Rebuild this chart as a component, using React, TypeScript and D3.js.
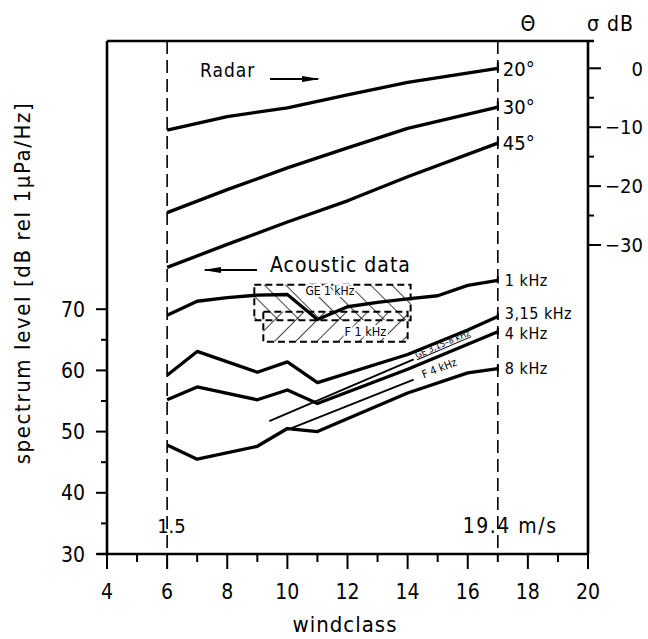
import React, { useEffect, useRef } from "react";
import * as d3 from "d3";

// axes
const windTicks = [4, 6, 8, 10, 12, 14, 16, 18, 20];
const windMinor = [5, 7, 9, 11, 13, 15, 17, 19];
const levelTicks = [30, 40, 50, 60, 70];
const levelMinor = [35, 45, 55, 65];
const sigmaTicks = [0, -10, -20, -30];
const sigmaMinor = [-5, -15, -25];

// radar sigma (right axis) per incidence angle
const radarWind = [6, 8, 10, 12, 14, 17];
const radar20 = [-10.5, -8.2, -6.7, -4.5, -2.4, 0];
const radar30 = [-24.5, -20.6, -16.9, -13.5, -10.2, -6.6];
const radar45 = [-33.8, -29.9, -26.1, -22.5, -18.4, -12.7];
const radarLabels = ["20°", "30°", "45°"];

// acoustic spectrum levels (left axis)
const wind1k = [6, 7, 8, 9, 10, 11, 12, 13, 14, 15, 16, 17];
const level1k = [69.0, 71.3, 71.9, 72.3, 72.4, 68.3, 70.4, 71.1, 71.7, 72.2, 73.9, 74.7];
const wind3k = [6, 7, 9, 10, 11, 14, 16, 17];
const level3k = [59.2, 63.1, 59.7, 61.4, 58.0, 62.6, 66.6, 68.8];
const wind4k = [6, 7, 9, 10, 11, 14, 17];
const level4k = [55.2, 57.3, 55.2, 56.8, 54.6, 60.2, 66.3];
const wind8k = [6, 7, 9, 10, 11, 14, 16, 17];
const level8k = [47.8, 45.5, 47.6, 50.5, 50.0, 56.3, 59.6, 60.3];
const acousticLabels = ["1 kHz", "3,15 kHz", "4 kHz", "8 kHz"];

// other studies
const windGE = [9.4, 14.2];
const levelGE = [51.7, 61.8];
const windF4 = [10.1, 14.2];
const levelF4 = [50.5, 58.5];
const boxGE1k = { wind: [8.9, 14.1], level: [68.2, 74.0] };
const boxF1k = { wind: [9.2, 14.0], level: [64.7, 69.6] };

const font = "'DejaVu Sans Condensed', 'Liberation Sans Narrow', 'DejaVu Sans', sans-serif";

const App = () => {
  const svgRef = useRef(null);

  useEffect(() => {
    const svg = d3.select(svgRef.current);
    svg.selectAll("*").remove();

    const x = d3.scaleLinear().domain([4, 20]).range([107, 588]);
    const y = d3.scaleLinear().domain([30, 70]).range([554, 309.2]);
    const s = d3.scaleLinear().domain([-30, 0]).range([245, 68.3]);
    const top = 41;

    const defs = svg.append("defs");
    const hatch = (id, angle) => {
      defs
        .append("pattern")
        .attr("id", id)
        .attr("patternUnits", "userSpaceOnUse")
        .attr("width", 15)
        .attr("height", 15)
        .attr("patternTransform", `rotate(${angle})`)
        .append("line")
        .attr("x1", 0)
        .attr("y1", 0)
        .attr("x2", 0)
        .attr("y2", 15)
        .attr("stroke", "#000")
        .attr("stroke-width", 1.5);
    };
    hatch("hatchGE", -45);
    hatch("hatchF", 45);

    const g = svg.append("g").attr("font-family", font).attr("fill", "#000");

    // frame
    g.append("path")
      .attr("d", `M${x(4)},${top}H${x(20) + 6}M${x(4)},${top}V${y(30)}M${x(4) - 10},${y(30)}H${x(20)}M${x(20)},${top}V${y(30)}`)
      .attr("stroke", "#000")
      .attr("stroke-width", 2.6)
      .attr("fill", "none");

    // dashed limits 1.5 and 19.4 m/s
    [6, 17].forEach((w) => {
      g.append("line")
        .attr("x1", x(w))
        .attr("x2", x(w))
        .attr("y1", top)
        .attr("y2", y(30))
        .attr("stroke", "#000")
        .attr("stroke-width", 1.6)
        .attr("stroke-dasharray", "13,6");
    });

    // bottom ticks
    g.selectAll(".xt")
      .data(windTicks)
      .enter()
      .append("line")
      .attr("x1", (d) => x(d))
      .attr("x2", (d) => x(d))
      .attr("y1", y(30))
      .attr("y2", y(30) + 15)
      .attr("stroke", "#000")
      .attr("stroke-width", 2);
    g.selectAll(".xm")
      .data(windMinor)
      .enter()
      .append("line")
      .attr("x1", (d) => x(d))
      .attr("x2", (d) => x(d))
      .attr("y1", y(30))
      .attr("y2", y(30) + 8)
      .attr("stroke", "#000")
      .attr("stroke-width", 2);
    g.selectAll(".xl")
      .data(windTicks)
      .enter()
      .append("text")
      .attr("x", (d) => x(d))
      .attr("y", 599)
      .attr("text-anchor", "middle")
      .attr("font-size", 21)
      .text((d) => d);

    // left ticks
    g.selectAll(".yt")
      .data(levelTicks)
      .enter()
      .append("line")
      .attr("x1", x(4) - 11)
      .attr("x2", x(4))
      .attr("y1", (d) => y(d))
      .attr("y2", (d) => y(d))
      .attr("stroke", "#000")
      .attr("stroke-width", 2);
    g.selectAll(".ym")
      .data(levelMinor)
      .enter()
      .append("line")
      .attr("x1", x(4) - 6)
      .attr("x2", x(4))
      .attr("y1", (d) => y(d))
      .attr("y2", (d) => y(d))
      .attr("stroke", "#000")
      .attr("stroke-width", 2);
    g.selectAll(".yl")
      .data(levelTicks)
      .enter()
      .append("text")
      .attr("x", 85)
      .attr("y", (d) => y(d))
      .attr("dy", "0.36em")
      .attr("text-anchor", "end")
      .attr("font-size", 21)
      .text((d) => d);

    // right sigma axis
    g.selectAll(".st")
      .data(sigmaTicks)
      .enter()
      .append("line")
      .attr("x1", x(20))
      .attr("x2", x(20) + 13)
      .attr("y1", (d) => s(d))
      .attr("y2", (d) => s(d))
      .attr("stroke", "#000")
      .attr("stroke-width", 2);
    g.selectAll(".sm")
      .data(sigmaMinor)
      .enter()
      .append("line")
      .attr("x1", x(20))
      .attr("x2", x(20) + 6)
      .attr("y1", (d) => s(d))
      .attr("y2", (d) => s(d))
      .attr("stroke", "#000")
      .attr("stroke-width", 2);
    g.selectAll(".sl")
      .data(sigmaTicks)
      .enter()
      .append("text")
      .attr("x", 643)
      .attr("y", (d) => s(d))
      .attr("dy", "0.36em")
      .attr("text-anchor", "end")
      .attr("font-size", 20)
      .text((d) => (d === 0 ? "0" : `−${-d}`));

    g.append("text").attr("x", 528).attr("y", 31).attr("text-anchor", "middle").attr("font-size", 21).text("Θ");
    g.append("text").attr("x", 587).attr("y", 31).attr("font-size", 21).attr("letter-spacing", 1).text("σ dB");

    // axis titles
    g.append("text")
      .attr("x", 345)
      .attr("y", 632)
      .attr("text-anchor", "middle")
      .attr("font-size", 22)
      .attr("letter-spacing", 1)
      .text("windclass");
    g.append("text")
      .attr("transform", "translate(30,283) rotate(-90)")
      .attr("text-anchor", "middle")
      .attr("font-size", 22)
      .attr("letter-spacing", 1.6)
      .text("spectrum level [dB rel 1μPa/Hz]");

    g.append("text").attr("x", x(6) - 10).attr("y", 533).attr("font-size", 20).text("1.5");
    g.append("text")
      .attr("x", x(17) - 35)
      .attr("y", 533)
      .attr("font-size", 21)
      .attr("letter-spacing", 1.5)
      .text("19.4 m/s");

    // hatched boxes of other studies
    const box = (b, id) => {
      g.append("rect")
        .attr("x", x(b.wind[0]))
        .attr("y", y(b.level[1]))
        .attr("width", x(b.wind[1]) - x(b.wind[0]))
        .attr("height", y(b.level[0]) - y(b.level[1]))
        .attr("fill", `url(#${id})`)
        .attr("stroke", "#000")
        .attr("stroke-width", 2)
        .attr("stroke-dasharray", "7,4");
    };
    box(boxGE1k, "hatchGE");
    box(boxF1k, "hatchF");

    const radarLine = d3
      .line()
      .x((d) => x(d[0]))
      .y((d) => s(d[1]));
    const levelLine = d3
      .line()
      .x((d) => x(d[0]))
      .y((d) => y(d[1]));

    const radar = [radar20, radar30, radar45];
    radar.forEach((vals, i) => {
      const pts = radarWind.map((w, j) => [w, vals[j]]);
      g.append("path")
        .attr("d", radarLine(pts))
        .attr("fill", "none")
        .attr("stroke", "#000")
        .attr("stroke-width", 3.3)
        .attr("stroke-linejoin", "round");
      const end = pts[pts.length - 1];
      g.append("line")
        .attr("x1", x(17))
        .attr("x2", x(17))
        .attr("y1", s(end[1]) - 6)
        .attr("y2", s(end[1]) + 3)
        .attr("stroke", "#000")
        .attr("stroke-width", 2);
      g.append("text")
        .attr("x", x(17) + 5)
        .attr("y", s(end[1]))
        .attr("dy", "0.36em")
        .attr("font-size", 20)
        .text(radarLabels[i]);
    });

    const acoustic = [
      [wind1k, level1k],
      [wind3k, level3k],
      [wind4k, level4k],
      [wind8k, level8k],
    ];
    const labelShift = [0, -3, 1, 0];
    acoustic.forEach(([ws, vals], i) => {
      const pts = ws.map((w, j) => [w, vals[j]]);
      g.append("path")
        .attr("d", levelLine(pts))
        .attr("fill", "none")
        .attr("stroke", "#000")
        .attr("stroke-width", 3.3)
        .attr("stroke-linejoin", "round");
      const end = pts[pts.length - 1];
      g.append("line")
        .attr("x1", x(17))
        .attr("x2", x(17))
        .attr("y1", y(end[1]) - 4)
        .attr("y2", y(end[1]) + 3)
        .attr("stroke", "#000")
        .attr("stroke-width", 2);
      g.append("text")
        .attr("x", x(17) + 7)
        .attr("y", y(end[1]) + labelShift[i])
        .attr("dy", "0.36em")
        .attr("font-size", 16)
        .attr("letter-spacing", 0.5)
        .text(acousticLabels[i]);
    });

    // thin lines of other studies
    [
      [windGE, levelGE],
      [windF4, levelF4],
    ].forEach(([ws, vals]) => {
      g.append("path")
        .attr("d", levelLine(ws.map((w, j) => [w, vals[j]])))
        .attr("fill", "none")
        .attr("stroke", "#000")
        .attr("stroke-width", 1.8);
    });

    const angleGE = (Math.atan2(y(levelGE[0]) - y(levelGE[1]), x(windGE[1]) - x(windGE[0])) * 180) / Math.PI;
    g.append("text")
      .attr("transform", `translate(${x(windGE[1]) + 3},${y(levelGE[1]) - 1}) rotate(${-angleGE})`)
      .attr("font-size", 9)
      .attr("text-decoration", "underline")
      .text("GE 3,15–8 kHz");
    const angleF = (Math.atan2(y(levelF4[0]) - y(levelF4[1]), x(windF4[1]) - x(windF4[0])) * 180) / Math.PI;
    g.append("text")
      .attr("transform", `translate(${x(windF4[1]) + 10},${y(levelF4[1]) - 1}) rotate(${-angleF})`)
      .attr("font-size", 11)
      .text("F 4 kHz");

    // box labels
    const halo = (t) =>
      t.attr("stroke", "#fff").attr("stroke-width", 4).attr("paint-order", "stroke");
    halo(
      g.append("text")
        .attr("x", x(10.6))
        .attr("y", y(72.3))
        .attr("font-size", 12)
        .text("GE 1 kHz")
    );
    halo(
      g.append("text")
        .attr("x", x(11.9))
        .attr("y", y(65.6))
        .attr("font-size", 12.5)
        .text("F 1 kHz")
    );

    // annotations
    g.append("text").attr("x", 200).attr("y", 77).attr("font-size", 19).attr("letter-spacing", 1).text("Radar");
    g.append("path")
      .attr("d", "M270,79H318")
      .attr("stroke", "#000")
      .attr("stroke-width", 2);
    g.append("path").attr("d", "M302,76L320,79L302,82Z");

    g.append("text")
      .attr("x", 270)
      .attr("y", 272)
      .attr("font-size", 21)
      .attr("letter-spacing", 1)
      .text("Acoustic data");
    g.append("path")
      .attr("d", "M205,270H257")
      .attr("stroke", "#000")
      .attr("stroke-width", 2);
    g.append("path").attr("d", "M221,267L203,270L221,273Z");
  }, []);

  return (
    <svg
      ref={svgRef}
      width={648}
      height={639}
      style={{ position: "absolute", left: 0, top: 0, background: "#fff" }}
    />
  );
};

export default App;
